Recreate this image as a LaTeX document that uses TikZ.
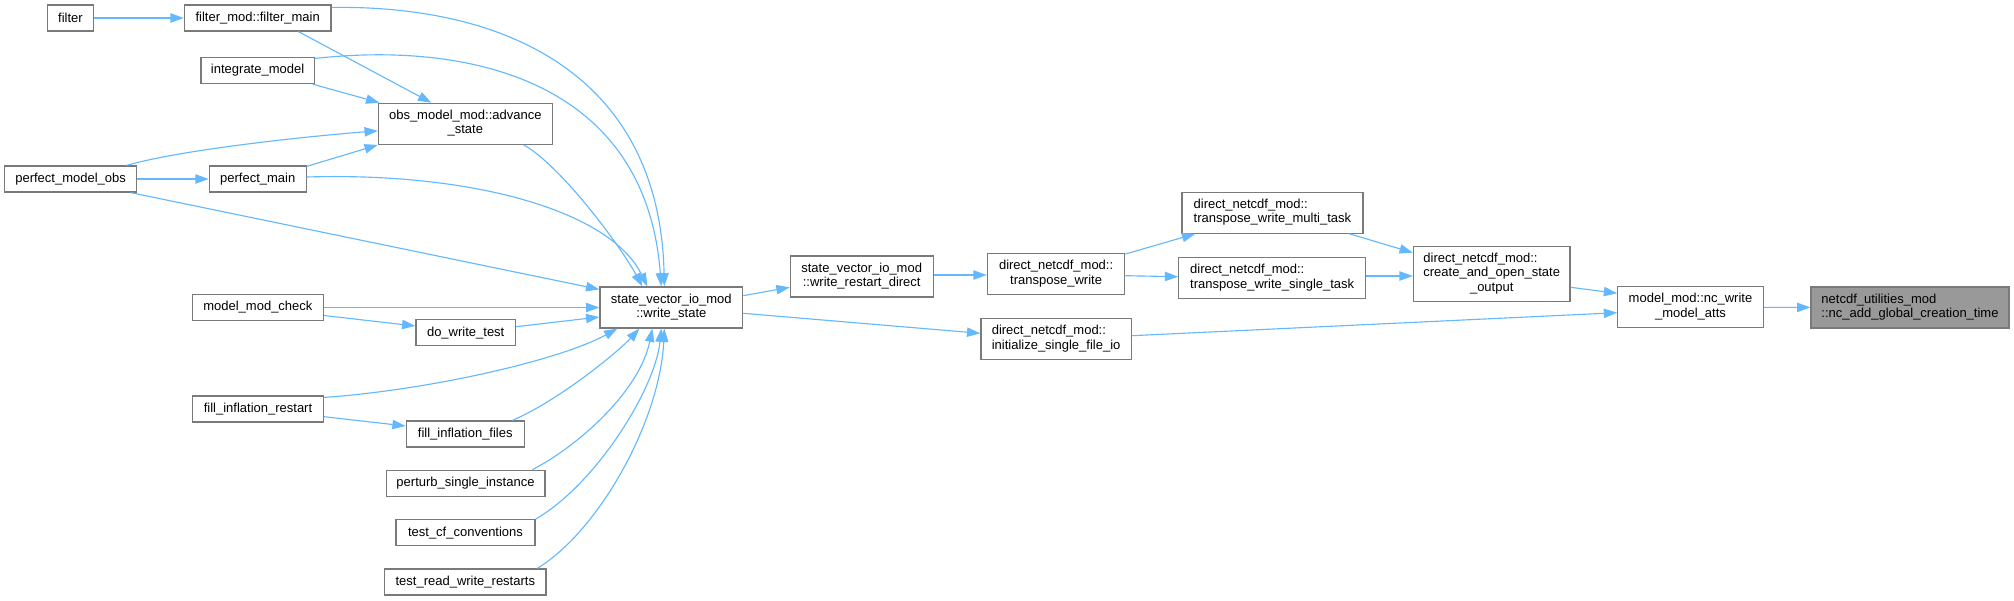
\documentclass[tikz,border=0pt]{standalone}
\usepackage{fontspec}
\setmainfont{Liberation Sans}
\usetikzlibrary{arrows.meta,calc}
\definecolor{edgeblue}{HTML}{63B8FF}
\definecolor{nodegray}{HTML}{7A7A7A}
\definecolor{hlgray}{HTML}{999999}
\newcommand{\twoline}[2]{\begin{tabular}{@{}l@{}}#1\\\multicolumn{1}{@{}c@{}}{#2}\end{tabular}}
\newcommand{\threeline}[3]{\begin{tabular}{@{}l@{}}#1\\#2\\\multicolumn{1}{@{}c@{}}{#3}\end{tabular}}
\begin{document}
\begin{tikzpicture}[x=0.75pt,y=-0.75pt,
  box/.style={draw=nodegray, line width=0.9pt, fill=white, inner sep=0pt,
    font=\fontsize{9.75pt}{10.9pt}\selectfont},
  wh/.style 2 args={minimum width=#1*0.75pt, minimum height=#2*0.75pt},
  edge/.style={draw=edgeblue, line width=0.85pt, -{Triangle[length=10pt,width=7pt]}},
]
\useasboundingbox (0,0) rectangle (2014,600);

\node[box,wh={46}{26}] (filter) at (70.5,18) {filter};
\node[box,wh={146.6}{26}] (fm) at (257.7,18) {filter\_mod::filter\_main};
\node[box,wh={113.2}{26}] (im) at (257.6,70.6) {integrate\_model};
\node[box,wh={173.7}{41}] (adv) at (465.3,123.8) {\twoline{obs\_model\_mod::advance}{\_state}};
\node[box,wh={132}{26}] (pmo) at (70.6,179) {perfect\_model\_obs};
\node[box,wh={96.8}{26}] (pm) at (257.7,179) {perfect\_main};
\node[box,wh={131}{26}] (mmc) at (257.9,307.5) {model\_mod\_check};
\node[box,wh={99.5}{26}] (dwt) at (465.7,332.7) {do\_write\_test};
\node[box,wh={131}{26}] (fir) at (258,409) {fill\_inflation\_restart};
\node[box,wh={118}{26}] (fif) at (465.3,434) {fill\_inflation\_files};
\node[box,wh={158.8}{26}] (psi) at (465.5,483.3) {perturb\_single\_instance};
\node[box,wh={139}{26}] (tcf) at (465.5,532.7) {test\_cf\_conventions};
\node[box,wh={161.5}{26}] (trw) at (465.3,582) {test\_read\_write\_restarts};
\node[box,wh={142.7}{41}] (ws) at (671.3,307.5) {\twoline{state\_vector\_io\_mod}{::write\_state}};
\node[box,wh={142.8}{41}] (wrd) at (861.7,276.5) {\twoline{state\_vector\_io\_mod}{::write\_restart\_direct}};
\node[box,wh={137.4}{41}] (tw) at (1056.1,274) {\twoline{direct\_netcdf\_mod::}{transpose\_write}};
\node[box,wh={150.4}{41}] (isf) at (1056.1,339.3) {\twoline{direct\_netcdf\_mod::}{initialize\_single\_file\_io}};
\node[box,wh={181}{41}] (mt) at (1272.4,212.7) {\twoline{direct\_netcdf\_mod::}{transpose\_write\_multi\_task}};
\node[box,wh={186.8}{41}] (st) at (1272.2,278) {\twoline{direct\_netcdf\_mod::}{transpose\_write\_single\_task}};
\node[box,wh={156.6}{55}] (cao) at (1491.7,274) {\threeline{direct\_netcdf\_mod::}{create\_and\_open\_state}{\_output}};
\node[box,wh={145.5}{41}] (ncw) at (1690.5,307.3) {\twoline{model\_mod::nc\_write}{\_model\_atts}};
\node[box,wh={198}{41},fill=hlgray] (nc) at (1910,307.5) {\twoline{netcdf\_utilities\_mod}{::nc\_add\_global\_creation\_time}};

% edges
\draw[edge] (filter) -- (fm);
\draw[edge] ($(fm.south west)+(114.6,0)$) -- ($(adv.north west)+(53.5,0)$);
\draw[edge] ($(fm.north east)+(0,3)$) .. controls (520,5) and (660,85) .. ($(ws.north west)+(65,0)$);
\draw[edge] ($(im.south east)+(-2,0)$) -- ($(adv.north west)+(1.5,0)$);
\draw[edge] ($(im.north east)+(0,1.5)$) .. controls (460,42) and (645,75) .. ($(ws.north west)+(62,0)$);
\draw[edge] ($(pmo.north east)+(-10.6,0)$) .. controls (180,150) and (300,137) .. ($(adv.west)+(0,7)$);
\draw[edge] (pmo) -- (pm);
\draw[edge] ($(pmo.south east)+(-6.6,0)$) -- ($(ws.north west)+(0,3)$);
\draw[edge] ($(pm.north east)+(0,1)$) -- (adv.south west);
\draw[edge] ($(pm.east)+(0,-2)$) .. controls (470,172) and (610,210) .. ($(ws.north west)+(48,0)$);
\draw[edge] ($(adv.south east)+(-29,0)$) .. controls (560,165) and (620,245) .. ($(ws.north west)+(43,0)$);
\draw[edge] (mmc) -- (ws);
\draw[edge] ($(mmc.east)+(0,8)$) -- ($(dwt.west)+(0,-6.7)$);
\draw[edge] ($(dwt.east)+(0,-6)$) -- ($(ws.west)+(0,9.5)$);
\draw[edge] ($(fir.north east)+(0,2)$) .. controls (430,390) and (560,360) .. ($(ws.south west)+(18,0)$);
\draw[edge] ($(fir.east)+(0,7.7)$) -- ($(fif.west)+(0,-8)$);
\draw[edge] ($(fif.north east)+(-12.6,0)$) .. controls (560,400) and (620,350) .. ($(ws.south west)+(40,0)$);
\draw[edge] ($(psi.north east)+(-13.2,0)$) .. controls (580,445) and (640,390) .. ($(ws.south west)+(53,0)$);
\draw[edge] (tcf.north east) .. controls (595,485) and (655,390) .. ($(ws.south west)+(62,0)$);
\draw[edge] ($(trw.north east)+(-9.4,0)$) .. controls (600,530) and (660,420) .. ($(ws.south west)+(65,0)$);
\draw[edge] ($(ws.east)+(0,-11.8)$) -- ($(wrd.west)+(0,10.8)$);
\draw[edge] ($(ws.east)+(0,5.8)$) -- ($(isf.west)+(0,-6)$);
\draw[edge] ($(wrd.east)+(0,-1.5)$) -- ($(tw.west)+(0,1)$);
\draw[edge] ($(tw.east)+(0,-20)$) -- ($(mt.south west)+(14,0)$);
\draw[edge] ($(tw.east)+(0,1.7)$) -- ($(st.west)+(0,-1.3)$);
\draw[edge] ($(mt.south east)+(-14,0)$) -- ($(cao.west)+(0,-21.3)$);
\draw[edge] ($(st.east)+(0,-2)$) -- ($(cao.west)+(0,2)$);
\draw[edge] ($(cao.east)+(0,13.3)$) -- ($(ncw.west)+(0,-14)$);
\draw[edge] ($(isf.east)+(0,-3.6)$) -- ($(ncw.west)+(0,5.4)$);
\draw[edge] (ncw) -- (nc);
\end{tikzpicture}
\end{document}
